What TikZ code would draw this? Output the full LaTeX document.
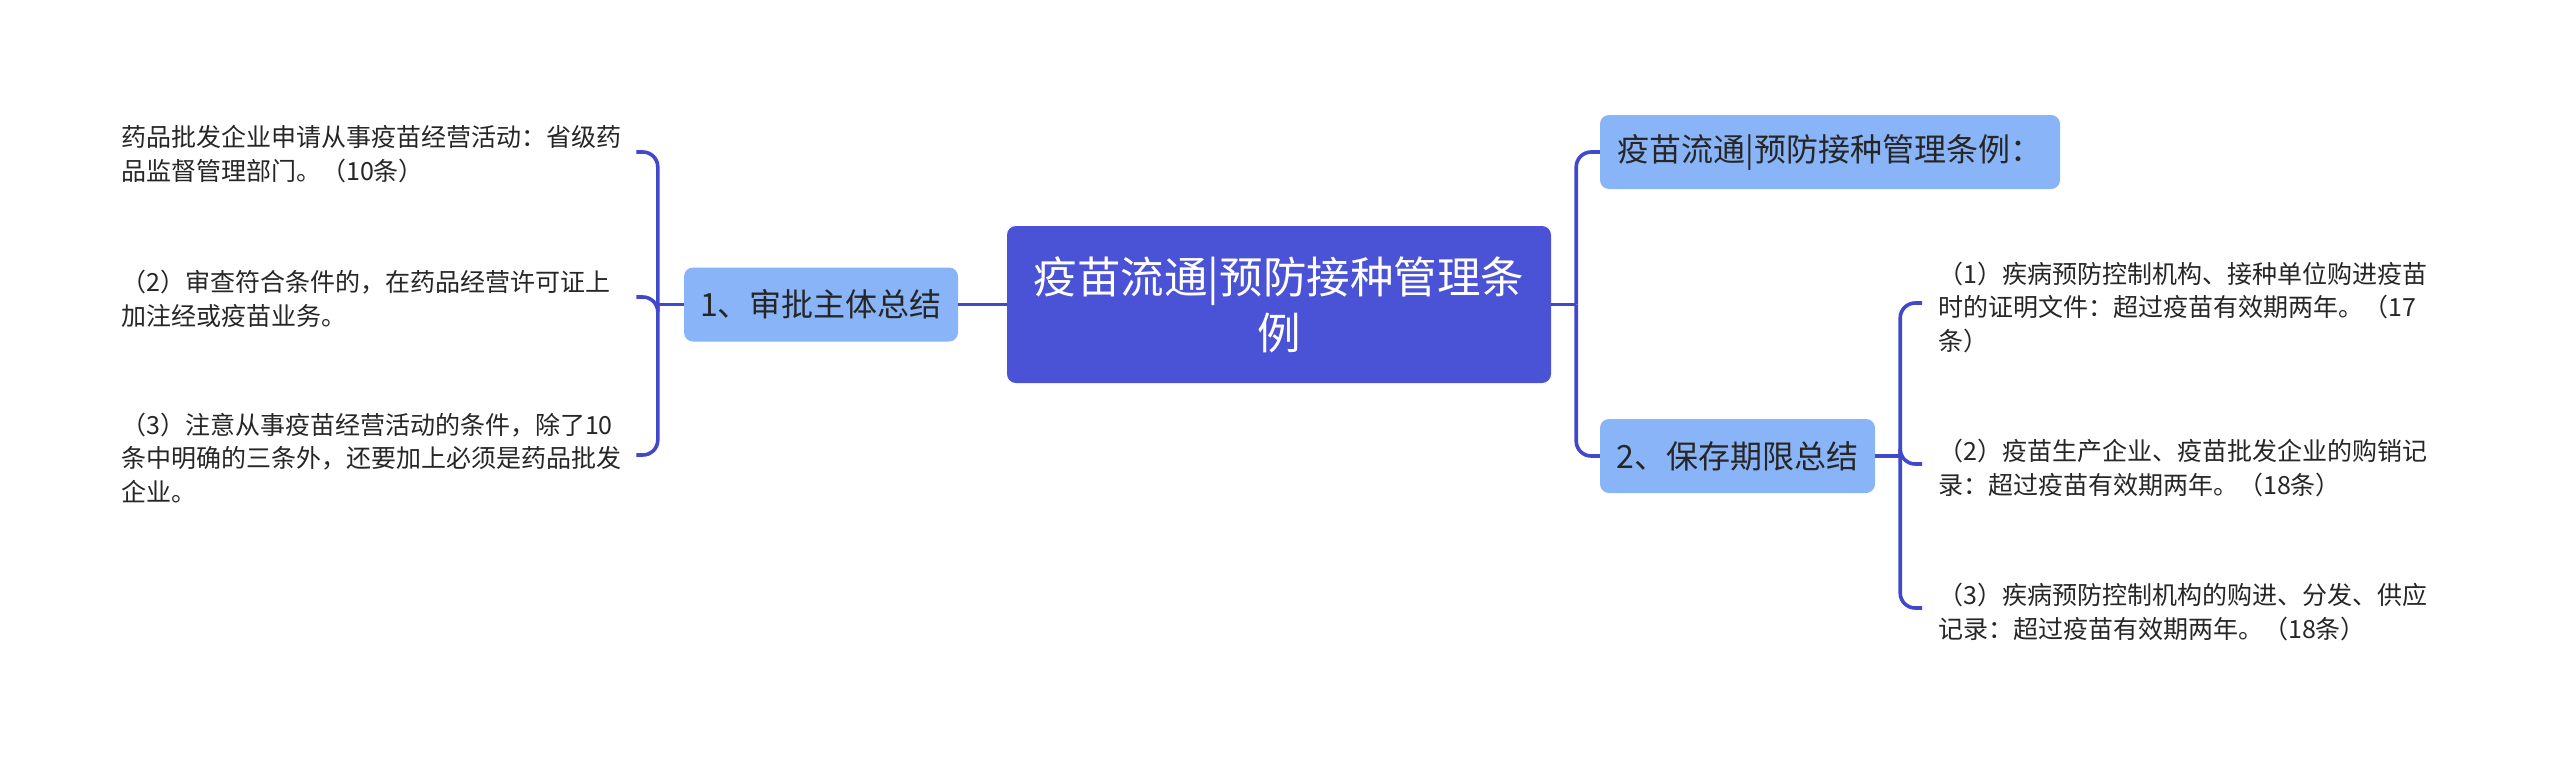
\documentclass[tikz,border=0pt]{standalone}
\usepackage{fontspec}
\setmainfont{Noto Sans CJK SC}
\definecolor{rootc}{HTML}{4A52D6}
\definecolor{subc}{HTML}{8AB4F8}
\definecolor{linec}{HTML}{4048CC}
\definecolor{txtc}{HTML}{262626}
\tikzset{
  rootbox/.style={fill=rootc, rounded corners=9pt, minimum width=544pt, minimum height=157pt,
    text=white, align=center, font=\fontsize{43.5}{56}\selectfont, inner sep=0pt},
  subbox/.style={fill=subc, rounded corners=9pt, minimum height=74pt, text=txtc,
    font=\fontsize{32}{38}\selectfont, inner sep=0pt},
  leaftext/.style={text=txtc, align=left, inner sep=0pt, text width=520pt,
    font=\fontsize{25}{33.5}\selectfont},
  conn/.style={draw=linec, line width=3.6pt, rounded corners=15pt}
}
\begin{document}
\begin{tikzpicture}[x=1pt,y=-1pt]
\useasboundingbox[fill=white] (0,0) rectangle (2560,761);

\node[rootbox] (root) at (1279,304.5) {疫苗流通|预防接种管理条\\例};

\node[subbox, minimum width=274pt] (n1) at (821,304.5) {1、审批主体总结};
\node[subbox, minimum width=460pt] (n2) at (1830,152) {疫苗流通|预防接种管理条例：};
\node[subbox, minimum width=275pt] (n3) at (1737.5,456) {2、保存期限总结};

\node[leaftext, anchor=west] (l1) at (121,154) {药品批发企业申请从事疫苗经营活动：省级药\\品监督管理部门。（10条）};
\node[leaftext, anchor=west] (l2) at (121,299) {（2）审查符合条件的，在药品经营许可证上\\加注经或疫苗业务。};
\node[leaftext, anchor=west] (l3) at (121,458) {（3）注意从事疫苗经营活动的条件，除了10\\条中明确的三条外，还要加上必须是药品批发\\企业。};

\node[leaftext, anchor=west] (r1) at (1938,307) {（1）疾病预防控制机构、接种单位购进疫苗\\时的证明文件：超过疫苗有效期两年。（17\\条）};
\node[leaftext, anchor=west] (r2) at (1938,468) {（2）疫苗生产企业、疫苗批发企业的购销记\\录：超过疫苗有效期两年。（18条）};
\node[leaftext, anchor=west] (r3) at (1938,612) {（3）疾病预防控制机构的购进、分发、供应\\记录：超过疫苗有效期两年。（18条）};

\coordinate (lj) at ([xshift=-26pt]n1.west);
\coordinate (rj) at ([xshift=25pt]root.east);
\coordinate (sj) at ([xshift=25pt]n3.east);

\draw[conn] (root.west) -- (n1.east);
\draw[conn] (n1.west) -- (lj);
\draw[conn] (lj) |- ([xshift=-5pt,yshift=2pt]l1.east);
\draw[conn] (lj) |- ([xshift=-5pt,yshift=2pt]l2.east);
\draw[conn] (lj) |- ([xshift=-5pt,yshift=3pt]l3.east);

\draw[conn] (root.east) -- (rj);
\draw[conn] (rj) |- (n2.west);
\draw[conn] (rj) |- (n3.west);

\draw[conn] (n3.east) -- (sj);
\draw[conn] (sj) |- ([xshift=-16pt,yshift=4pt]r1.west);
\draw[conn] (sj) |- ([xshift=-16pt,yshift=4pt]r2.west);
\draw[conn] (sj) |- ([xshift=-16pt,yshift=4pt]r3.west);
\end{tikzpicture}
\end{document}
